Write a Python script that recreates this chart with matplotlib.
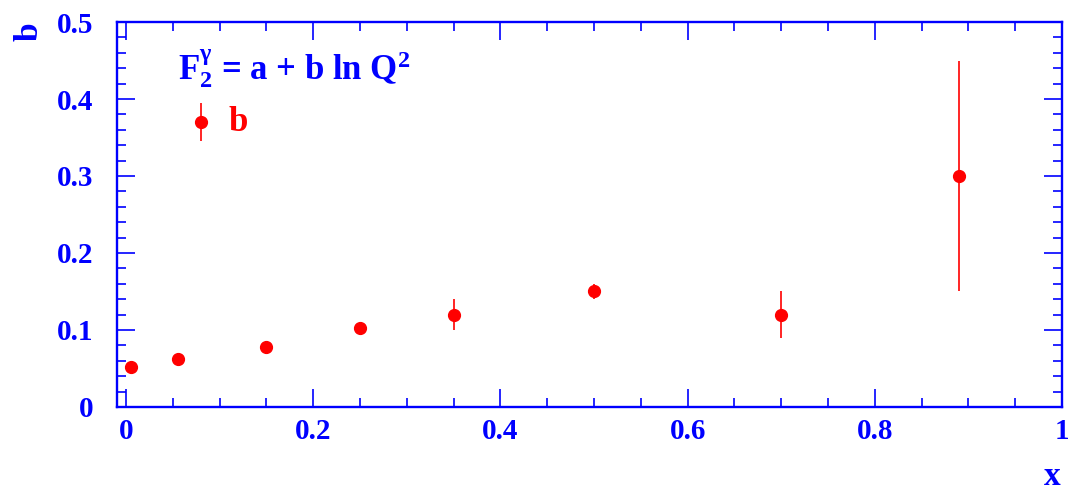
import numpy as np
import matplotlib
matplotlib.use('Agg')
import matplotlib.pyplot as plt
from matplotlib.ticker import MultipleLocator

# Datos
x_vals = [0.005, 0.055, 0.15, 0.25, 0.35, 0.5, 0.7, 0.89]
b_vals = [0.052, 0.062, 0.078, 0.102, 0.120, 0.150, 0.120, 0.300]
b_errs = [0.003, 0.003, 0.003, 0.008, 0.020, 0.010, 0.030, 0.150]

x_ticks = [0, 0.2, 0.4, 0.6, 0.8, 1.0]
x_labels = ['0', '0.2', '0.4', '0.6', '0.8', '1']
y_ticks = [0, 0.1, 0.2, 0.3, 0.4, 0.5]
y_labels = ['0', '0.1', '0.2', '0.3', '0.4', '0.5']

AZUL = '#0000ff'
ROJO = '#ff0000'

plt.rcParams['font.family'] = ['Liberation Serif', 'DejaVu Serif']
plt.rcParams['font.weight'] = 'bold'
plt.rcParams['mathtext.fontset'] = 'custom'
plt.rcParams['mathtext.rm'] = 'Liberation Serif:bold'
plt.rcParams['mathtext.it'] = 'Liberation Serif:bold'
plt.rcParams['mathtext.bf'] = 'Liberation Serif:bold'

fig = plt.figure(figsize=(10.68, 4.99), dpi=100)
ax = fig.add_axes([0.1096, 0.1844, 0.9944 - 0.1096, 0.9559 - 0.1844])

ax.errorbar(x_vals, b_vals, yerr=b_errs, fmt='o', color=ROJO, ms=8.5,
            elinewidth=1.2, capsize=0)

ax.set_xlim(-0.0096, 1.0)
ax.set_ylim(0, 0.5)
ax.xaxis.set_minor_locator(MultipleLocator(0.05))
ax.yaxis.set_minor_locator(MultipleLocator(0.02))
ax.set_xticks(x_ticks)
ax.set_xticklabels(x_labels)
ax.set_yticks(y_ticks)
ax.set_yticklabels(y_labels)

for s in ax.spines.values():
    s.set_color(AZUL)
    s.set_linewidth(1.7)
ax.tick_params(which='both', direction='in', color=AZUL, labelcolor=AZUL,
               width=1.2, left=True, right=True, bottom=True, top=True,
               labelsize=21)
ax.tick_params(which='major', length=13)
ax.tick_params(which='minor', length=6.5)
ax.tick_params(axis='x', pad=8)
ax.tick_params(axis='y', pad=17)

ax.text(-0.093, 1.0, 'b', transform=ax.transAxes, color=AZUL, fontsize=24,
        rotation=90, ha='center', va='top')
ax.text(0.99, -0.18, 'x', transform=ax.transAxes, color=AZUL, fontsize=24,
        ha='center', va='center')

# Leyenda
ax.text(0.065, 0.88, r'F$_2^{\gamma}$ = a + b ln Q$^2$', transform=ax.transAxes,
        color=AZUL, fontsize=25, ha='left', va='center')
ax.errorbar([0.08], [0.37], yerr=[0.025], fmt='o', color=ROJO, ms=8.5,
            elinewidth=1.2, capsize=0)
ax.text(0.11, 0.37, 'b', color=ROJO, fontsize=25, ha='left', va='center')

fig.savefig('out.png', dpi=100)
